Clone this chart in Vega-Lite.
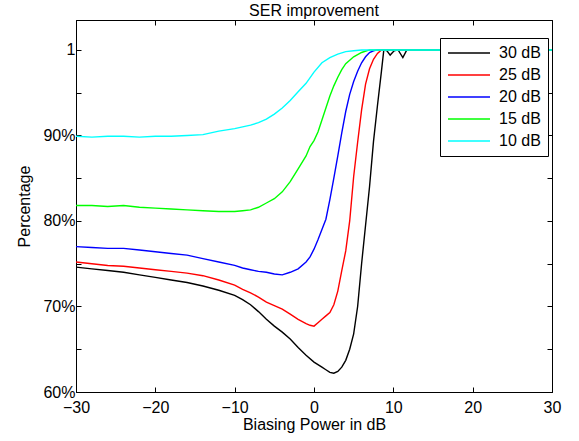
{
  "$schema": "https://vega.github.io/schema/vega-lite/v6.json",
  "width": 476,
  "height": 372,
  "autosize": {"type": "none"},
  "padding": {"left": 76, "top": 20, "right": 27, "bottom": 49},
  "background": "white",
  "title": {"text": "SER improvement", "font": "Liberation Sans", "fontSize": 16, "fontWeight": "normal", "color": "black", "offset": 1},
  "config": {
    "view": {"stroke": "black", "strokeWidth": 1},
    "axis": {"grid": false, "domainColor": "black", "tickColor": "black", "labelColor": "black", "titleColor": "black", "labelFont": "Liberation Sans", "titleFont": "Liberation Sans", "labelFontSize": 16, "titleFontSize": 16, "titleFontWeight": "normal", "tickSize": -5, "domain": true}
  },
  "datasets": {
    "ser": [
      {"p": -30, "v": 0.746, "s": "30 dB"}, {"p": -28, "v": 0.744, "s": "30 dB"}, {"p": -26, "v": 0.742, "s": "30 dB"}, {"p": -24, "v": 0.740, "s": "30 dB"}, {"p": -22, "v": 0.737, "s": "30 dB"}, {"p": -20, "v": 0.734, "s": "30 dB"}, {"p": -18, "v": 0.731, "s": "30 dB"}, {"p": -16, "v": 0.728, "s": "30 dB"}, {"p": -14, "v": 0.724, "s": "30 dB"}, {"p": -12, "v": 0.719, "s": "30 dB"}, {"p": -10, "v": 0.713, "s": "30 dB"}, {"p": -9, "v": 0.708, "s": "30 dB"}, {"p": -8, "v": 0.702, "s": "30 dB"}, {"p": -7, "v": 0.694, "s": "30 dB"}, {"p": -6, "v": 0.685, "s": "30 dB"}, {"p": -5, "v": 0.677, "s": "30 dB"}, {"p": -4, "v": 0.670, "s": "30 dB"}, {"p": -3, "v": 0.662, "s": "30 dB"}, {"p": -2, "v": 0.652, "s": "30 dB"}, {"p": -1, "v": 0.643, "s": "30 dB"}, {"p": 0, "v": 0.635, "s": "30 dB"}, {"p": 0.5, "v": 0.632, "s": "30 dB"}, {"p": 1, "v": 0.629, "s": "30 dB"}, {"p": 1.5, "v": 0.626, "s": "30 dB"}, {"p": 2, "v": 0.623, "s": "30 dB"}, {"p": 2.5, "v": 0.622, "s": "30 dB"}, {"p": 3, "v": 0.624, "s": "30 dB"}, {"p": 3.5, "v": 0.629, "s": "30 dB"}, {"p": 4, "v": 0.637, "s": "30 dB"}, {"p": 4.5, "v": 0.650, "s": "30 dB"}, {"p": 5, "v": 0.668, "s": "30 dB"}, {"p": 5.5, "v": 0.700, "s": "30 dB"}, {"p": 6, "v": 0.750, "s": "30 dB"}, {"p": 6.5, "v": 0.795, "s": "30 dB"}, {"p": 7, "v": 0.840, "s": "30 dB"}, {"p": 7.5, "v": 0.893, "s": "30 dB"}, {"p": 8, "v": 0.935, "s": "30 dB"}, {"p": 8.5, "v": 0.975, "s": "30 dB"}, {"p": 8.8, "v": 1.0, "s": "30 dB"}, {"p": 9.2, "v": 0.999, "s": "30 dB"}, {"p": 9.6, "v": 0.994, "s": "30 dB"}, {"p": 10.1, "v": 0.999, "s": "30 dB"}, {"p": 10.6, "v": 1.0, "s": "30 dB"}, {"p": 11.2, "v": 0.991, "s": "30 dB"}, {"p": 11.7, "v": 1.0, "s": "30 dB"}, {"p": 15, "v": 1.0, "s": "30 dB"}, {"p": 20, "v": 1.0, "s": "30 dB"}, {"p": 25, "v": 1.0, "s": "30 dB"}, {"p": 30, "v": 1.0, "s": "30 dB"},

      {"p": -30, "v": 0.752, "s": "25 dB"}, {"p": -28, "v": 0.750, "s": "25 dB"}, {"p": -26, "v": 0.748, "s": "25 dB"}, {"p": -24, "v": 0.747, "s": "25 dB"}, {"p": -22, "v": 0.745, "s": "25 dB"}, {"p": -20, "v": 0.743, "s": "25 dB"}, {"p": -18, "v": 0.741, "s": "25 dB"}, {"p": -16, "v": 0.739, "s": "25 dB"}, {"p": -14, "v": 0.736, "s": "25 dB"}, {"p": -12, "v": 0.731, "s": "25 dB"}, {"p": -10, "v": 0.725, "s": "25 dB"}, {"p": -9, "v": 0.720, "s": "25 dB"}, {"p": -8, "v": 0.716, "s": "25 dB"}, {"p": -7, "v": 0.711, "s": "25 dB"}, {"p": -6, "v": 0.705, "s": "25 dB"}, {"p": -5, "v": 0.701, "s": "25 dB"}, {"p": -4, "v": 0.697, "s": "25 dB"}, {"p": -3, "v": 0.691, "s": "25 dB"}, {"p": -2, "v": 0.685, "s": "25 dB"}, {"p": -1, "v": 0.680, "s": "25 dB"}, {"p": -0.5, "v": 0.678, "s": "25 dB"}, {"p": 0, "v": 0.677, "s": "25 dB"}, {"p": 0.5, "v": 0.681, "s": "25 dB"}, {"p": 1, "v": 0.685, "s": "25 dB"}, {"p": 1.5, "v": 0.689, "s": "25 dB"}, {"p": 2, "v": 0.693, "s": "25 dB"}, {"p": 2.5, "v": 0.702, "s": "25 dB"}, {"p": 3, "v": 0.718, "s": "25 dB"}, {"p": 3.5, "v": 0.742, "s": "25 dB"}, {"p": 4, "v": 0.765, "s": "25 dB"}, {"p": 4.5, "v": 0.800, "s": "25 dB"}, {"p": 5, "v": 0.852, "s": "25 dB"}, {"p": 5.5, "v": 0.892, "s": "25 dB"}, {"p": 6, "v": 0.930, "s": "25 dB"}, {"p": 6.5, "v": 0.960, "s": "25 dB"}, {"p": 7, "v": 0.978, "s": "25 dB"}, {"p": 7.5, "v": 0.989, "s": "25 dB"}, {"p": 8, "v": 0.996, "s": "25 dB"}, {"p": 8.5, "v": 1.0, "s": "25 dB"}, {"p": 15, "v": 1.0, "s": "25 dB"}, {"p": 20, "v": 1.0, "s": "25 dB"}, {"p": 25, "v": 1.0, "s": "25 dB"}, {"p": 30, "v": 1.0, "s": "25 dB"},

      {"p": -30, "v": 0.770, "s": "20 dB"}, {"p": -28, "v": 0.769, "s": "20 dB"}, {"p": -26, "v": 0.768, "s": "20 dB"}, {"p": -24, "v": 0.768, "s": "20 dB"}, {"p": -22, "v": 0.766, "s": "20 dB"}, {"p": -20, "v": 0.764, "s": "20 dB"}, {"p": -18, "v": 0.762, "s": "20 dB"}, {"p": -16, "v": 0.760, "s": "20 dB"}, {"p": -14, "v": 0.756, "s": "20 dB"}, {"p": -12, "v": 0.752, "s": "20 dB"}, {"p": -10, "v": 0.748, "s": "20 dB"}, {"p": -9, "v": 0.745, "s": "20 dB"}, {"p": -8, "v": 0.743, "s": "20 dB"}, {"p": -7, "v": 0.741, "s": "20 dB"}, {"p": -6, "v": 0.740, "s": "20 dB"}, {"p": -5, "v": 0.738, "s": "20 dB"}, {"p": -4, "v": 0.737, "s": "20 dB"}, {"p": -3, "v": 0.740, "s": "20 dB"}, {"p": -2, "v": 0.744, "s": "20 dB"}, {"p": -1, "v": 0.752, "s": "20 dB"}, {"p": -0.5, "v": 0.758, "s": "20 dB"}, {"p": 0, "v": 0.767, "s": "20 dB"}, {"p": 0.5, "v": 0.778, "s": "20 dB"}, {"p": 1, "v": 0.790, "s": "20 dB"}, {"p": 1.5, "v": 0.802, "s": "20 dB"}, {"p": 2, "v": 0.825, "s": "20 dB"}, {"p": 2.5, "v": 0.850, "s": "20 dB"}, {"p": 3, "v": 0.876, "s": "20 dB"}, {"p": 3.5, "v": 0.903, "s": "20 dB"}, {"p": 4, "v": 0.928, "s": "20 dB"}, {"p": 4.5, "v": 0.948, "s": "20 dB"}, {"p": 5, "v": 0.963, "s": "20 dB"}, {"p": 5.5, "v": 0.975, "s": "20 dB"}, {"p": 6, "v": 0.985, "s": "20 dB"}, {"p": 6.5, "v": 0.992, "s": "20 dB"}, {"p": 7, "v": 0.997, "s": "20 dB"}, {"p": 7.5, "v": 0.999, "s": "20 dB"}, {"p": 8, "v": 1.0, "s": "20 dB"}, {"p": 15, "v": 1.0, "s": "20 dB"}, {"p": 20, "v": 1.0, "s": "20 dB"}, {"p": 25, "v": 1.0, "s": "20 dB"}, {"p": 30, "v": 1.0, "s": "20 dB"},

      {"p": -30, "v": 0.818, "s": "15 dB"}, {"p": -28, "v": 0.818, "s": "15 dB"}, {"p": -26, "v": 0.817, "s": "15 dB"}, {"p": -24, "v": 0.818, "s": "15 dB"}, {"p": -22, "v": 0.816, "s": "15 dB"}, {"p": -20, "v": 0.815, "s": "15 dB"}, {"p": -18, "v": 0.814, "s": "15 dB"}, {"p": -16, "v": 0.813, "s": "15 dB"}, {"p": -14, "v": 0.812, "s": "15 dB"}, {"p": -12, "v": 0.811, "s": "15 dB"}, {"p": -10, "v": 0.811, "s": "15 dB"}, {"p": -9, "v": 0.812, "s": "15 dB"}, {"p": -8, "v": 0.813, "s": "15 dB"}, {"p": -7, "v": 0.816, "s": "15 dB"}, {"p": -6, "v": 0.821, "s": "15 dB"}, {"p": -5, "v": 0.826, "s": "15 dB"}, {"p": -4, "v": 0.834, "s": "15 dB"}, {"p": -3, "v": 0.846, "s": "15 dB"}, {"p": -2, "v": 0.861, "s": "15 dB"}, {"p": -1, "v": 0.876, "s": "15 dB"}, {"p": -0.5, "v": 0.887, "s": "15 dB"}, {"p": 0, "v": 0.894, "s": "15 dB"}, {"p": 0.5, "v": 0.904, "s": "15 dB"}, {"p": 1, "v": 0.918, "s": "15 dB"}, {"p": 1.5, "v": 0.932, "s": "15 dB"}, {"p": 2, "v": 0.946, "s": "15 dB"}, {"p": 2.5, "v": 0.958, "s": "15 dB"}, {"p": 3, "v": 0.968, "s": "15 dB"}, {"p": 3.5, "v": 0.977, "s": "15 dB"}, {"p": 4, "v": 0.984, "s": "15 dB"}, {"p": 5, "v": 0.992, "s": "15 dB"}, {"p": 6, "v": 0.997, "s": "15 dB"}, {"p": 7, "v": 1.0, "s": "15 dB"}, {"p": 15, "v": 1.0, "s": "15 dB"}, {"p": 20, "v": 1.0, "s": "15 dB"}, {"p": 25, "v": 1.0, "s": "15 dB"}, {"p": 30, "v": 1.0, "s": "15 dB"},

      {"p": -30, "v": 0.899, "s": "10 dB"}, {"p": -28, "v": 0.898, "s": "10 dB"}, {"p": -26, "v": 0.899, "s": "10 dB"}, {"p": -24, "v": 0.899, "s": "10 dB"}, {"p": -22, "v": 0.898, "s": "10 dB"}, {"p": -20, "v": 0.899, "s": "10 dB"}, {"p": -18, "v": 0.899, "s": "10 dB"}, {"p": -16, "v": 0.900, "s": "10 dB"}, {"p": -14, "v": 0.901, "s": "10 dB"}, {"p": -12, "v": 0.905, "s": "10 dB"}, {"p": -10, "v": 0.908, "s": "10 dB"}, {"p": -9, "v": 0.910, "s": "10 dB"}, {"p": -8, "v": 0.912, "s": "10 dB"}, {"p": -7, "v": 0.915, "s": "10 dB"}, {"p": -6, "v": 0.919, "s": "10 dB"}, {"p": -5, "v": 0.925, "s": "10 dB"}, {"p": -4, "v": 0.932, "s": "10 dB"}, {"p": -3, "v": 0.941, "s": "10 dB"}, {"p": -2, "v": 0.951, "s": "10 dB"}, {"p": -1, "v": 0.961, "s": "10 dB"}, {"p": 0, "v": 0.974, "s": "10 dB"}, {"p": 1, "v": 0.985, "s": "10 dB"}, {"p": 2, "v": 0.991, "s": "10 dB"}, {"p": 3, "v": 0.995, "s": "10 dB"}, {"p": 4, "v": 0.998, "s": "10 dB"}, {"p": 5, "v": 0.999, "s": "10 dB"}, {"p": 6, "v": 1.0, "s": "10 dB"}, {"p": 15, "v": 1.0, "s": "10 dB"}, {"p": 20, "v": 1.0, "s": "10 dB"}, {"p": 25, "v": 1.0, "s": "10 dB"}, {"p": 30, "v": 1.0, "s": "10 dB"}
    ]
  },
  "data": {"name": "ser"},
  "resolve": {"axis": {"x": "independent", "y": "independent"}},
  "layer": [
    {
      "mark": {"type": "line", "strokeWidth": 1.4, "clip": true},
      "encoding": {
        "x": {"field": "p", "type": "quantitative", "scale": {"domain": [-30, 30], "nice": false, "zero": false},
              "axis": {"title": "Biasing Power in dB", "values": [-30, -20, -10, 0, 10, 20, 30], "labelExpr": "replace(format(datum.value, 'd'), '-', '\u2212')", "titlePadding": 1, "labelPadding": 12, "labelFlush": false}},
        "y": {"field": "v", "type": "quantitative", "scale": {"domain": [0.6, 1.035], "nice": false, "zero": false},
              "axis": {"title": "Percentage", "values": [0.6, 0.65, 0.7, 0.75, 0.8, 0.85, 0.9, 0.95, 1.0], "labelExpr": "round(datum.value*100) == 100 ? '1' : (round(datum.value*100) % 10 == 0 ? format(datum.value, '.0%') : '')", "titlePadding": 10, "labelPadding": 6}},
        "color": {"field": "s", "type": "nominal",
                  "scale": {"domain": ["30 dB", "25 dB", "20 dB", "15 dB", "10 dB"], "range": ["#000000", "#ff0000", "#0000ff", "#00ff00", "#00ffff"]},
                  "legend": {"title": null, "orient": "none", "legendX": 364, "legendY": 18, "symbolType": "M-1,0H5", "symbolSize": 196, "symbolStrokeWidth": 1.4, "labelFont": "Liberation Sans", "labelFontSize": 16, "labelColor": "black", "strokeColor": "black", "fillColor": "white", "padding": 7, "rowPadding": 6, "labelOffset": 36}},
        "order": {"field": "p", "type": "quantitative"}
      }
    },
    {
      "mark": {"type": "rule", "opacity": 0},
      "encoding": {
        "x": {"datum": 0, "type": "quantitative", "scale": {"domain": [-30, 30], "nice": false, "zero": false},
              "axis": {"orient": "top", "title": null, "labels": false, "values": [-30, -20, -10, 0, 10, 20, 30]}},
        "y": {"datum": 0.8, "type": "quantitative", "scale": {"domain": [0.6, 1.035], "nice": false, "zero": false},
              "axis": {"orient": "right", "title": null, "labels": false, "values": [0.6, 0.65, 0.7, 0.75, 0.8, 0.85, 0.9, 0.95, 1.0]}}
      }
    }
  ]
}
